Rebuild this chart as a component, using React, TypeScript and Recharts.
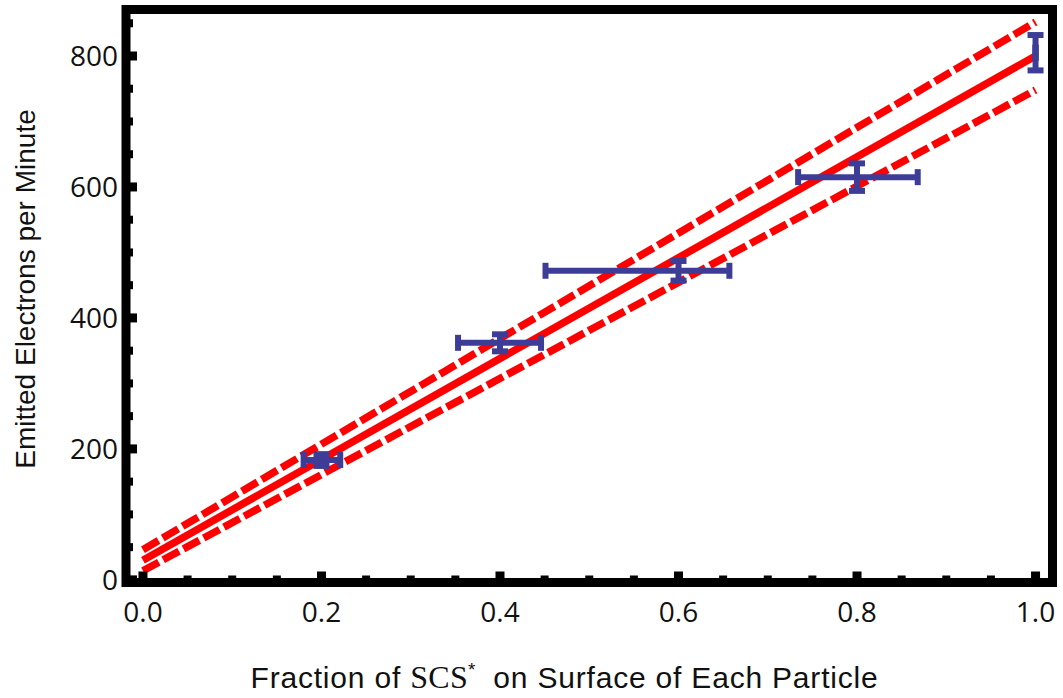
import React from 'react';
import { ComposedChart, Line, Scatter, ErrorBar, XAxis, YAxis, ReferenceArea } from 'recharts';

// measured points with x / y uncertainties
const fractions = [0.2, 0.4, 0.6, 0.8, 1.0];
const electrons = [183, 362, 472, 615, 805];
const fractionErrLow = [0.02, 0.047, 0.149, 0.066, 0];
const fractionErrHigh = [0.021, 0.046, 0.057, 0.068, 0];
const electronErr = [9, 13, 15, 21, 27];

// fit line and its bands (ends at x = 0 and x = 1)
const lineX = [0, 1];
const fitY = [30, 800];
const upperY = [46, 852];
const lowerY = [14, 748];

const xTickValues = [0, 0.05, 0.1, 0.15, 0.2, 0.25, 0.3, 0.35, 0.4, 0.45, 0.5, 0.55, 0.6, 0.65, 0.7, 0.75, 0.8, 0.85, 0.9, 0.95, 1.0];
const yTickValues = [0, 50, 100, 150, 200, 250, 300, 350, 400, 450, 500, 550, 600, 650, 700, 750, 800, 850];

const xDomain = [-0.019, 1.019];
const yDomain = [-4, 871];

const points = fractions.map((x, i) => ({
  x,
  y: electrons[i],
  xErr: [fractionErrLow[i], fractionErrHigh[i]],
  yErr: electronErr[i],
}));
const toLine = (ys) => lineX.map((x, i) => ({ x, y: ys[i] }));

const BLUE = '#3d3d98';
const RED = '#ff0000';
const TICK_FONT = '"Open Sans", sans-serif';
const TITLE_FONT = '"Liberation Sans", Arial, sans-serif';

const isMajorX = (v) => Math.abs(v * 5 - Math.round(v * 5)) < 1e-6;
const isMajorY = (v) => v % 200 === 0;

const BottomTick = ({ x, y, payload }) => {
  const major = isMajorX(payload.value);
  return (
    <g>
      <line x1={x} x2={x} y1={y} y2={y - (major ? 11 : 7)} stroke="#000" strokeWidth={major ? 9 : 8} />
      {major && (
        <text x={x} y={y + 39.5} textAnchor="middle" fontFamily={TICK_FONT} fontSize={28} fill="#111">
          {payload.value.toFixed(1)}
        </text>
      )}
    </g>
  );
};

const TopTick = ({ x, y, payload }) => {
  const major = isMajorX(payload.value);
  return <line x1={x} x2={x} y1={y} y2={y + (major ? 11 : 7)} stroke="#000" strokeWidth={major ? 9 : 8} />;
};

const LeftTick = ({ x, y, payload }) => {
  const major = isMajorY(payload.value);
  return (
    <g>
      <line x1={x} x2={x + (major ? 11 : 7)} y1={y} y2={y} stroke="#000" strokeWidth={major ? 9 : 8} />
      {major && (
        <text x={x - 8} y={y} dy="0.355em" textAnchor="end" fontFamily={TICK_FONT} fontSize={28} fill="#111">
          {payload.value}
        </text>
      )}
    </g>
  );
};

const RightTick = ({ x, y, payload }) => {
  const major = isMajorY(payload.value);
  return <line x1={x} x2={x - (major ? 11 : 7)} y1={y} y2={y} stroke="#000" strokeWidth={major ? 9 : 8} />;
};

const XTitle = () => (
  <text x={564.5} y={688} textAnchor="middle" fontFamily={TITLE_FONT} fontSize={30} letterSpacing={0.8} fill="#111">
    Fraction of{' '}
    <tspan fontFamily='"Liberation Serif", serif' fontSize={32} letterSpacing={0.3}>SCS</tspan>
    <tspan fontSize={19} dy={-12}>*</tspan>
    <tspan dy={12} dx={8}> on Surface of Each Particle</tspan>
  </text>
);

const YTitle = () => (
  <text x={35} y={289} transform="rotate(-90, 35, 289)" textAnchor="middle" fontFamily={TITLE_FONT} fontSize={28} fill="#111">
    Emitted Electrons per Minute
  </text>
);

export default function App() {
  return (
    <div>
      <style>{'body{margin:0;background:#fff}'}</style>
      <ComposedChart width={1063} height={698} margin={{ top: 9.5, right: 10.5, left: 0, bottom: 0 }}>
        <XAxis dataKey="x" type="number" domain={xDomain} allowDataOverflow ticks={xTickValues} interval={0}
               height={115.5} axisLine={false} tickLine={false} tickSize={0} tickMargin={0} tick={BottomTick} />
        <XAxis xAxisId="top" orientation="top" dataKey="x" type="number" domain={xDomain} allowDataOverflow
               ticks={xTickValues} interval={0} height={0} axisLine={false} tickLine={false} tickSize={0}
               tickMargin={0} tick={TopTick} />
        <YAxis type="number" domain={yDomain} allowDataOverflow ticks={yTickValues} interval={0} width={126}
               axisLine={false} tickLine={false} tickSize={0} tickMargin={0} tick={LeftTick} />
        <YAxis yAxisId="right" orientation="right" type="number" domain={yDomain} allowDataOverflow
               ticks={yTickValues} interval={0} width={0} axisLine={false} tickLine={false} tickSize={0}
               tickMargin={0} tick={RightTick} />
        <Line data={toLine(upperY)} dataKey="y" type="linear" stroke={RED} strokeWidth={7.5}
              strokeDasharray="18 5" dot={false} activeDot={false} isAnimationActive={false} />
        <Line data={toLine(fitY)} dataKey="y" type="linear" stroke={RED} strokeWidth={7.5}
              dot={false} activeDot={false} isAnimationActive={false} />
        <Line data={toLine(lowerY)} dataKey="y" type="linear" stroke={RED} strokeWidth={7.5}
              strokeDasharray="18 5" dot={false} activeDot={false} isAnimationActive={false} />
        <Scatter data={points} dataKey="y" fill={BLUE} shape={() => <g />} isAnimationActive={false}>
          <ErrorBar dataKey="xErr" direction="x" width={8} stroke={BLUE} strokeWidth={6} isAnimationActive={false} />
          <ErrorBar dataKey="yErr" direction="y" width={8} stroke={BLUE} strokeWidth={6} isAnimationActive={false} />
        </Scatter>
        <ReferenceArea x1={xDomain[0]} x2={xDomain[1]} y1={yDomain[0]} y2={yDomain[1]} fill="none"
                       fillOpacity={0} stroke="#000" strokeWidth={9} ifOverflow="visible" />
        <XTitle />
        <YTitle />
      </ComposedChart>
    </div>
  );
}
